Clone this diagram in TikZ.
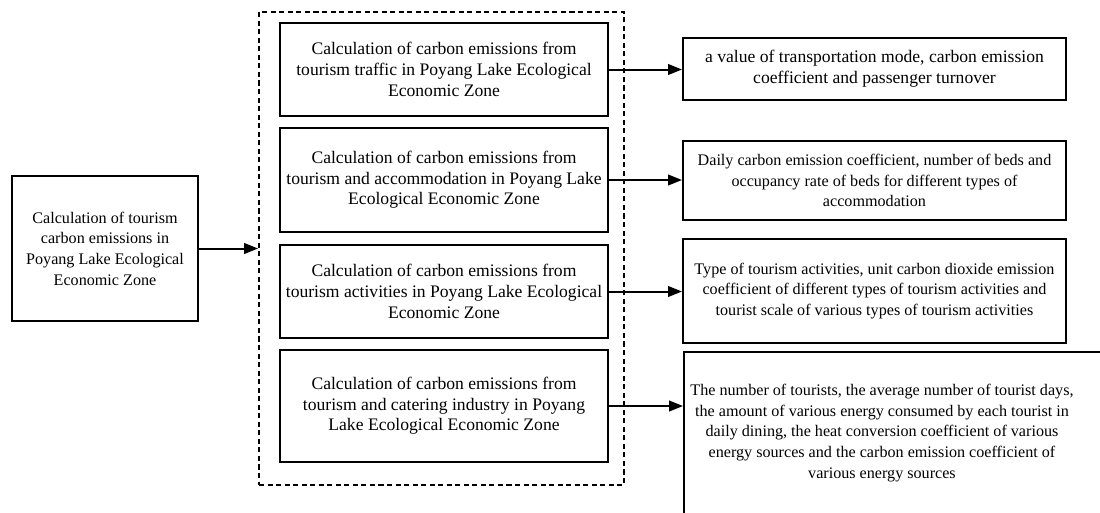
\documentclass[tikz,border=0pt]{standalone}
\usepackage{fontspec}
\setmainfont{Liberation Serif}
\usetikzlibrary{arrows.meta}

\tikzset{
    box/.style={rectangle,draw,line width=1.5pt,align=center,inner sep=0pt,
        font=\fontsize{13.2}{15.5}\selectfont},
    smallbox/.style={box,font=\fontsize{12.1}{15.5}\selectfont},
    linkarrow/.style={->,line width=1.5pt},
    >={Triangle[length=10.5pt,width=8pt]}
}

\begin{document}
\begin{tikzpicture}[x=0.75pt,y=-0.75pt]
    \useasboundingbox (0,0) rectangle (1100,512);
    \clip (0,0) rectangle (1100,512);

    \node[smallbox,minimum width=139.5pt,minimum height=108.75pt] (total) at (105,248.5)
        {Calculation of tourism\\carbon emissions in\\Poyang Lake Ecological\\Economic Zone};

    \node[rectangle,draw,dashed,line width=1.4pt,dash pattern=on 3.8pt off 2.6pt,minimum width=273.75pt,minimum height=354.75pt] (group) at (441.5,248.5) {};

    \node[box,minimum width=246pt,minimum height=69.75pt] (calc_traffic) at (444,69.5)
        {Calculation of carbon emissions from\\tourism traffic in Poyang Lake Ecological\\Economic Zone};
    \node[box,minimum width=246pt,minimum height=78pt] (calc_stay) at (444,180)
        {Calculation of carbon emissions from\\tourism and accommodation in Poyang Lake\\Ecological Economic Zone};
    \node[box,minimum width=246pt,minimum height=69.75pt] (calc_activity) at (444,291.5)
        {Calculation of carbon emissions from\\tourism activities in Poyang Lake Ecological\\Economic Zone};
    \node[box,minimum width=246pt,minimum height=84pt] (calc_catering) at (444,406)
        {Calculation of carbon emissions from\\tourism and catering industry in Poyang\\Lake Ecological Economic Zone};

    \node[box,minimum width=287.25pt,minimum height=46.5pt] (data_traffic) at (874.5,69)
        {a value of transportation mode, carbon emission\\coefficient and passenger turnover};
    \node[smallbox,minimum width=287.25pt,minimum height=59.25pt] (data_stay) at (874.5,180.5)
        {Daily carbon emission coefficient, number of beds and\\occupancy rate of beds for different types of\\accommodation};
    \node[smallbox,minimum width=287.25pt,minimum height=78pt] (data_activity) at (874.5,291)
        {Type of tourism activities, unit carbon dioxide emission\\coefficient of different types of tourism activities and\\tourist scale of various types of tourism activities};
    \node[box,anchor=north west,minimum width=337.5pt,minimum height=150pt] (data_catering) at (683,351) {};
    \node[smallbox,draw=none] (data_catering_text) at (882,433)
        {The number of tourists, the average number of tourist days,\\the amount of various energy consumed by each tourist in\\daily dining, the heat conversion coefficient of various\\energy sources and the carbon emission coefficient of\\various energy sources};

    \draw[linkarrow] (total.east) -- (total.east -| group.west) ;
    \draw[linkarrow] (calc_traffic.east) -- (calc_traffic.east -| data_traffic.west) ;
    \draw[linkarrow] (calc_stay.east) -- (calc_stay.east -| data_stay.west) ;
    \draw[linkarrow] (calc_activity.east) -- (calc_activity.east -| data_activity.west) ;
    \draw[linkarrow] (calc_catering.east) -- (calc_catering.east -| data_catering.west) ;
\end{tikzpicture}
\end{document}
